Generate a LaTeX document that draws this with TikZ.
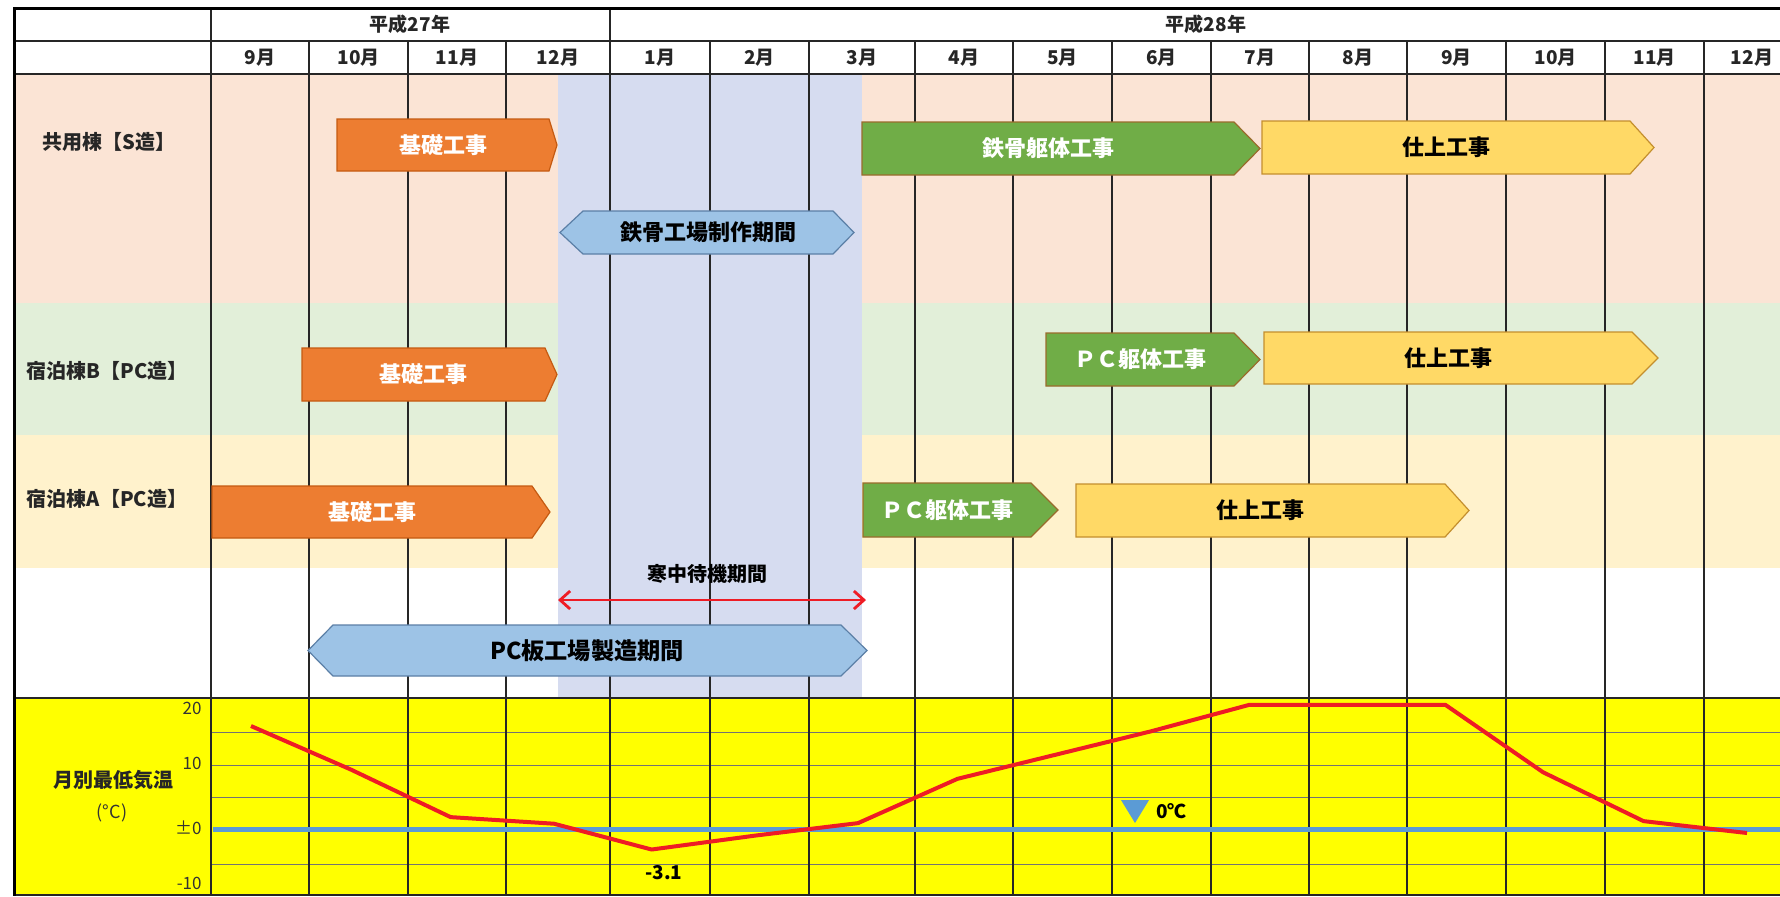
\documentclass[tikz,border=0pt]{standalone}
\usepackage{fontspec}
\setmainfont{Noto Sans CJK JP}
\usetikzlibrary{arrows.meta}
\definecolor{bandPink}{HTML}{FBE4D5}
\definecolor{bandGreen}{HTML}{E2EFD9}
\definecolor{bandCream}{HTML}{FFF2CC}
\definecolor{winterBlue}{HTML}{D6DCF0}
\definecolor{chartYellow}{HTML}{FFFF00}
\definecolor{barOrange}{HTML}{ED7D31}
\definecolor{barOrangeD}{HTML}{C55A11}
\definecolor{barGreen}{HTML}{70AD47}
\definecolor{barGreenD}{HTML}{9A6B2C}
\definecolor{barGold}{HTML}{FFD966}
\definecolor{barGoldD}{HTML}{C48F2E}
\definecolor{hexBlue}{HTML}{9DC3E6}
\definecolor{hexBlueD}{HTML}{5B7FA6}
\definecolor{zeroBlue}{HTML}{5B9BD5}
\definecolor{tempRed}{HTML}{EE1C25}
\definecolor{lineDark}{HTML}{262626}
\newcommand{\arrowbar}[6]{\draw[#1] (#2,#5) -- (#3,#5) -- (#4,{(#5+#6)/2}) -- (#3,#6) -- (#2,#6) -- cycle;}
\newcommand{\hexbar}[7]{\draw[#1] (#2,{(#6+#7)/2}) -- (#3,#6) -- (#4,#6) -- (#5,{(#6+#7)/2}) -- (#4,#7) -- (#3,#7) -- cycle;}
\begin{document}
\begin{tikzpicture}[x=0.5pt,y=-0.5pt,
 vline/.style={draw=lineDark, line width=1pt},
 outerline/.style={draw=black, line width=1.5pt},
 hgridline/.style={draw=black!55, line width=0.5pt},
 rowlbl/.style={font=\fontsize{10}{12}\selectfont\bfseries, text=black!85, inner sep=0pt},
 monthlbl/.style={font=\fontsize{9.5}{11}\selectfont\bfseries, text=black!85, inner sep=0pt},
 whitetxt/.style={font=\fontsize{11}{13}\selectfont\bfseries, text=white, inner sep=0pt},
 blacktxt/.style={font=\fontsize{11}{13}\selectfont\bfseries, text=black, inner sep=0pt},
 obar/.style={fill=barOrange, draw=barOrangeD, line width=0.6pt},
 gbar/.style={fill=barGreen, draw=barGreenD, line width=0.6pt},
 ybar/.style={fill=barGold, draw=barGoldD, line width=0.6pt},
 hbar/.style={fill=hexBlue, draw=hexBlueD, line width=0.6pt},
 axislbl/.style={font=\fontsize{8.5}{10}\selectfont, text=black!80, inner sep=0pt, anchor=east},
 redarrow/.style={draw=tempRed, line width=1.4pt, {Straight Barb[length=5pt,width=9pt]}-{Straight Barb[length=5pt,width=9pt]}}
]
\useasboundingbox (0,0) rectangle (1780,896);
\fill[white] (0,0) rectangle (1780,896);
% bands
\fill[bandPink] (14,74) rectangle (1780,303);
\fill[bandGreen] (14,303) rectangle (1780,435);
\fill[bandCream] (14,435) rectangle (1780,568);
\fill[winterBlue] (558,74) rectangle (862,698);
\fill[chartYellow] (14,698) rectangle (1780,895);
% chart gridlines
\foreach \yy in {732,765,797,864} \draw[hgridline] (211,\yy) -- (1780,\yy);
% table lines
\draw[vline] (211,8) -- (211,895);
\draw[vline] (610,8) -- (610,895);
\foreach \xx in {309,408,506,710,809,915,1013,1112,1211,1309,1407,1506,1605,1704}
  \draw[vline] (\xx,41) -- (\xx,895);
\draw[vline] (14,41) -- (1780,41);
\draw[vline] (14,74) -- (1780,74);
\draw[vline] (14,698) -- (1780,698);
\draw[vline] (14,895) -- (1780,895);
\draw[outerline] (1780,8) -- (14,8) -- (14,896);
% headers
\node[monthlbl] (y27) at (410,24.5) {平成27年};
\node[monthlbl] (y28) at (1206,24.5) {平成28年};
\foreach \xx/\mm [count=\i] in {260/9,358.5/10,457/11,558/12,660/1,759.5/2,862/3,964/4,1062.5/5,1161.5/6,1260/7,1358/8,1456.5/9,1555.5/10,1654.5/11,1752/12}
  \node[monthlbl] (m\i) at (\xx,57.5) {\mm 月};
% row labels
\node[rowlbl] (r1) at (109,142) {共用棟【S造】};
\node[rowlbl] (r2) at (107,371) {宿泊棟B【PC造】};
\node[rowlbl] (r3) at (107,499) {宿泊棟A【PC造】};
% row 1
\arrowbar{obar}{337}{549}{557}{119}{171}
\node[whitetxt] (kiso1) at (443,145) {基礎工事};
\arrowbar{gbar}{862}{1234}{1260}{122}{175}
\node[whitetxt] (tekkotsu) at (1048,148.5) {鉄骨躯体工事};
\arrowbar{ybar}{1262}{1630}{1654}{121}{174}
\node[blacktxt] (shiage1) at (1446,147.5) {仕上工事};
\hexbar{hbar}{560}{583}{833}{854}{211}{254}
\node[blacktxt] (tekkoujo) at (708,232.5) {鉄骨工場制作期間};
% row B
\arrowbar{obar}{302}{545}{557}{348}{401}
\node[whitetxt] (kisoB) at (423.5,374.5) {基礎工事};
\arrowbar{gbar}{1046}{1234}{1260}{333}{386}
\node[whitetxt] (pcB) at (1140,359.5) {ＰＣ躯体工事};
\arrowbar{ybar}{1264}{1632}{1658}{332}{384}
\node[blacktxt] (shiageB) at (1448,358) {仕上工事};
% row A
\arrowbar{obar}{212}{532}{550}{486}{538}
\node[whitetxt] (kisoA) at (372,512) {基礎工事};
\arrowbar{gbar}{863}{1031}{1058}{483}{537}
\node[whitetxt] (pcA) at (947,510) {ＰＣ躯体工事};
\arrowbar{ybar}{1076}{1445}{1469}{484}{537}
\node[blacktxt] (shiageA) at (1260.5,510.5) {仕上工事};
% winter waiting
\node[blacktxt, font=\fontsize{10}{12}\selectfont\bfseries] (kanchu) at (707,574) {寒中待機期間};
\coordinate (wL) at (558,600);
\coordinate (wR) at (866,600);
\draw[redarrow] (wL) -- (wR);
\hexbar{hbar}{308}{333}{841}{867}{625}{676}
\node[blacktxt, font=\fontsize{11.6}{13}\selectfont\bfseries] (pcita) at (587,650.5) {PC板工場製造期間};
% temperature chart
\draw[zeroBlue, line width=2.5pt] (213,829) -- (1780,829);
\draw[tempRed, line width=2pt, line join=round] plot coordinates {
 (251,726.0) (351,769.6) (450.6,817.1) (554,823.7) (651.6,849.5) (755,835.6)
 (858,823.1) (957.5,778.8) (1054,755.1) (1151,731.3) (1249,704.9) (1347,704.9)
 (1445.5,704.9) (1543,772.2) (1643.5,821.1) (1747,833.0)};
\node[rowlbl] (tlabel) at (113,780) {月別最低気温};
\node[font=\fontsize{9}{10}\selectfont, text=black!80, inner sep=0pt] (tunit) at (112,813) {(°C)};
\node[axislbl] (a20) at (202,708) {20};
\node[axislbl] (a10) at (202,763) {10};
\node[axislbl] (a0) at (202,828) {±0};
\node[axislbl] (am10) at (202,883) {-10};
\node[font=\fontsize{9.5}{11}\selectfont\bfseries, inner sep=0pt] (minval) at (664,873) {-3.1};
\fill[zeroBlue] (1121,800) -- (1149,800) -- (1135,823) -- cycle;
\node[font=\fontsize{9.5}{11}\selectfont\bfseries, inner sep=0pt, anchor=west] (zerolbl) at (1156,811) {0℃};
\end{tikzpicture}
\end{document}
